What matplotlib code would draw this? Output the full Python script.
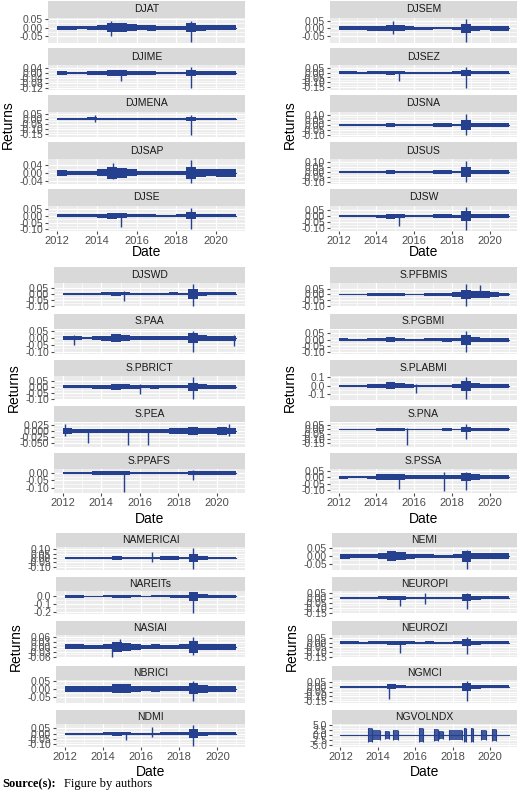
import matplotlib
matplotlib.use("Agg")
import matplotlib.pyplot as plt
import numpy as np

plt.rcParams['font.family'] = ['Liberation Sans', 'DejaVu Sans']

W, H = 520, 794
fig = plt.figure(figsize=(W/100, H/100), dpi=100)

LINE = "#24408e"
halfyears = [2012.0 + 0.5*i for i in range(18)] + [2021.0]

block_names = [
    (["DJAT", "DJIME", "DJMENA", "DJSAP", "DJSE"], ["DJSEM", "DJSEZ", "DJSNA", "DJSUS", "DJSW"]),
    (["DJSWD", "S.PAA", "S.PBRICT", "S.PEA", "S.PPAFS"], ["S.PFBMIS", "S.PGBMI", "S.PLABMI", "S.PNA", "S.PSSA"]),
    (["NAMERICAI", "NAREITs", "NASIAI", "NBRICI", "NDMI"], ["NEMI", "NEUROPI", "NEUROZI", "NGMCI", "NGVOLNDX"]),
]

yticks = {
    "DJAT": [-0.05, 0.0, 0.05], "DJIME": [-0.12, -0.08, -0.04, 0.0, 0.04],
    "DJMENA": [-0.15, -0.10, -0.05, 0.0, 0.05], "DJSAP": [-0.04, 0.0, 0.04],
    "DJSE": [-0.10, -0.05, 0.0, 0.05], "DJSEM": [-0.05, 0.0, 0.05],
    "DJSEZ": [-0.15, -0.10, -0.05, 0.0, 0.05], "DJSNA": [-0.10, -0.05, 0.0, 0.05, 0.10],
    "DJSUS": [-0.10, -0.05, 0.0, 0.05, 0.10], "DJSW": [-0.10, -0.05, 0.0, 0.05],
    "DJSWD": [-0.10, -0.05, 0.0, 0.05], "S.PAA": [-0.10, -0.05, 0.0, 0.05],
    "S.PBRICT": [-0.10, -0.05, 0.0, 0.05], "S.PEA": [-0.050, -0.025, 0.0, 0.025],
    "S.PPAFS": [-0.10, -0.05, 0.0], "S.PFBMIS": [-0.10, -0.05, 0.0, 0.05],
    "S.PGBMI": [-0.10, -0.05, 0.0, 0.05], "S.PLABMI": [-0.1, 0.0, 0.1],
    "S.PNA": [-0.15, -0.10, -0.05, 0.0, 0.05], "S.PSSA": [-0.10, -0.05, 0.0, 0.05],
    "NAMERICAI": [-0.10, -0.05, 0.0, 0.05, 0.10], "NAREITs": [-0.2, -0.1, 0.0],
    "NASIAI": [-0.06, -0.03, 0.0, 0.03, 0.06], "NBRICI": [-0.05, 0.0, 0.05],
    "NDMI": [-0.10, -0.05, 0.0, 0.05], "NEMI": [-0.05, 0.0, 0.05],
    "NEUROPI": [-0.15, -0.10, -0.05, 0.0, 0.05], "NEUROZI": [-0.15, -0.10, -0.05, 0.0, 0.05],
    "NGMCI": [-0.15, -0.10, -0.05, 0.0, 0.05], "NGVOLNDX": [-5.0, -2.5, 0.0, 2.5, 5.0],
}
ydecimals = {"S.PEA": 3, "S.PLABMI": 1, "NAREITs": 1, "NGVOLNDX": 1}

amp = {
    "DJAT":    [.012,.012,.010,.012,.015,.025,.028,.020,.015,.018,.012,.012,.012,.025,.018,.015,.015,.015],
    "DJIME":   [.012,.010,.010,.012,.015,.020,.020,.015,.012,.015,.010,.010,.010,.025,.015,.012,.012,.012],
    "DJMENA":  [.010,.008,.008,.015,.012,.012,.012,.010,.010,.010,.008,.008,.008,.020,.010,.008,.008,.008],
    "DJSAP":   [.015,.012,.012,.012,.018,.030,.025,.018,.012,.012,.010,.010,.012,.030,.020,.018,.020,.020],
    "DJSE":    [.010,.010,.010,.012,.015,.020,.018,.012,.010,.012,.008,.008,.010,.025,.012,.012,.012,.012],
    "DJSEM":   [.012,.012,.012,.015,.018,.020,.020,.012,.010,.010,.008,.008,.010,.030,.015,.012,.015,.015],
    "DJSEZ":   [.012,.012,.010,.012,.015,.020,.015,.010,.008,.010,.010,.010,.012,.030,.018,.015,.015,.015],
    "DJSNA":   [.010,.010,.010,.010,.012,.020,.012,.008,.008,.012,.015,.020,.012,.045,.020,.015,.015,.015],
    "DJSUS":   [.010,.010,.010,.010,.012,.020,.012,.008,.008,.012,.015,.020,.012,.045,.020,.015,.015,.015],
    "DJSW":    [.010,.008,.008,.010,.012,.020,.015,.008,.008,.010,.015,.015,.012,.040,.018,.015,.015,.015],
    "DJSWD":   [.010,.008,.008,.010,.012,.015,.012,.008,.008,.010,.010,.012,.010,.040,.015,.012,.012,.012],
    "S.PAA":   [.012,.012,.010,.012,.018,.028,.022,.015,.012,.015,.012,.012,.012,.035,.020,.018,.018,.018],
    "S.PBRICT":[.012,.012,.012,.015,.018,.025,.020,.015,.012,.015,.012,.012,.012,.035,.020,.018,.018,.018],
    "S.PEA":   [.012,.010,.008,.010,.010,.010,.010,.010,.010,.010,.010,.012,.012,.015,.012,.012,.015,.012],
    "S.PPAFS": [.008,.008,.008,.015,.012,.012,.012,.010,.010,.010,.010,.010,.010,.015,.012,.012,.012,.012],
    "S.PFBMIS":[.008,.008,.008,.010,.010,.010,.010,.008,.008,.010,.012,.015,.020,.040,.030,.030,.020,.012],
    "S.PGBMI": [.010,.008,.008,.010,.012,.020,.012,.008,.008,.010,.012,.015,.012,.040,.018,.015,.015,.015],
    "S.PLABMI":[.015,.015,.015,.020,.025,.040,.030,.020,.015,.015,.015,.015,.020,.060,.030,.025,.020,.020],
    "S.PNA":   [.010,.010,.008,.010,.012,.015,.012,.008,.008,.010,.010,.012,.010,.030,.012,.012,.012,.012],
    "S.PSSA":  [.012,.010,.010,.012,.020,.025,.020,.018,.015,.018,.015,.015,.015,.030,.020,.018,.018,.018],
    "NAMERICAI":[.010,.010,.010,.010,.015,.020,.012,.008,.010,.015,.020,.020,.012,.050,.018,.015,.015,.015],
    "NAREITs": [.015,.015,.010,.010,.012,.020,.015,.012,.010,.012,.012,.015,.015,.060,.025,.020,.018,.018],
    "NASIAI":  [.015,.015,.012,.012,.015,.030,.025,.018,.012,.015,.012,.012,.015,.035,.020,.018,.020,.020],
    "NBRICI":  [.018,.018,.018,.018,.020,.030,.028,.020,.015,.018,.015,.015,.015,.035,.025,.020,.020,.020],
    "NDMI":    [.010,.008,.008,.010,.012,.020,.015,.008,.008,.010,.012,.015,.012,.040,.018,.015,.015,.015],
    "NEMI":    [.015,.012,.012,.012,.018,.030,.025,.015,.012,.012,.010,.010,.012,.035,.020,.020,.018,.018],
    "NEUROPI": [.012,.010,.010,.010,.015,.020,.020,.012,.010,.012,.010,.010,.012,.035,.018,.015,.015,.015],
    "NEUROZI": [.012,.012,.010,.012,.015,.022,.020,.012,.010,.012,.010,.010,.012,.035,.020,.015,.015,.015],
    "NGMCI":   [.010,.010,.010,.010,.012,.025,.015,.010,.010,.012,.012,.012,.012,.040,.018,.015,.015,.015],
    "NGVOLNDX":[0]*18,
}

spikes = {
    "DJAT": [(2014.7, -0.05, 0.04), (2018.75, -0.085, 0.04)],
    "DJIME": [(2015.2, -0.06, 0.02), (2018.75, -0.12, 0.05)],
    "DJMENA": [(2013.9, -0.03, 0.04), (2018.75, -0.16, 0.04)],
    "DJSAP": [(2014.8, -0.03, 0.05), (2018.75, -0.05, 0.065)],
    "DJSE": [(2015.2, -0.08, 0.02), (2018.75, -0.10, 0.06)],
    "DJSEM": [(2014.9, -0.04, 0.05), (2018.75, -0.09, 0.06)],
    "DJSEZ": [(2015.2, -0.09, 0.02), (2018.75, -0.16, 0.06)],
    "DJSNA": [(2018.75, -0.10, 0.11)],
    "DJSUS": [(2018.75, -0.10, 0.11)],
    "DJSW": [(2015.2, -0.08, 0.02), (2018.75, -0.11, 0.07)],
    "DJSWD": [(2015.2, -0.06, 0.02), (2018.75, -0.10, 0.08)],
    "S.PAA": [(2012.6, -0.05, 0.02), (2018.75, -0.10, 0.05), (2020.9, -0.06, 0.02)],
    "S.PBRICT": [(2016.0, -0.06, 0.02), (2018.75, -0.10, 0.08)],
    "S.PEA": [(2012.1, -0.02, 0.028), (2013.3, -0.05, 0.01), (2015.4, -0.06, 0.01), (2016.4, -0.06, 0.01), (2020.6, -0.02, 0.03)],
    "S.PPAFS": [(2015.2, -0.13, 0.01), (2018.75, -0.05, 0.02)],
    "S.PFBMIS": [(2018.75, -0.10, 0.09), (2019.5, -0.02, 0.08)],
    "S.PGBMI": [(2018.75, -0.10, 0.07)],
    "S.PLABMI": [(2016.1, -0.08, 0.02), (2018.75, -0.15, 0.10)],
    "S.PNA": [(2015.6, -0.17, 0.02), (2018.75, -0.10, 0.06)],
    "S.PSSA": [(2015.2, -0.09, 0.02), (2017.6, -0.11, 0.04), (2018.75, -0.10, 0.04)],
    "NAMERICAI": [(2016.6, -0.05, 0.07), (2018.75, -0.12, 0.11)],
    "NAREITs": [(2018.75, -0.21, 0.05)],
    "NASIAI": [(2014.5, -0.06, 0.02), (2014.9, -0.02, 0.05), (2018.75, -0.05, 0.06)],
    "NBRICI": [(2018.75, -0.08, 0.05)],
    "NDMI": [(2015.2, -0.06, 0.02), (2016.6, -0.03, 0.06), (2018.75, -0.11, 0.08)],
    "NEMI": [(2018.75, -0.08, 0.04)],
    "NEUROPI": [(2015.2, -0.08, 0.02), (2016.5, -0.06, 0.05), (2018.75, -0.11, 0.05)],
    "NEUROZI": [(2015.2, -0.11, 0.02), (2018.75, -0.12, 0.06)],
    "NGMCI": [(2014.6, -0.13, 0.02), (2018.75, -0.15, 0.06)],
    "NGVOLNDX": [],
}

vol_blocks = [(2013.5, 2013.7, 3.5), (2013.7, 2014.1, 2.5), (2014.4, 2014.6, 2.0), (2014.8, 2015.1, 2.5),
              (2016.2, 2016.4, 3.5), (2017.0, 2017.2, 3.0), (2017.3, 2017.5, 2.0), (2017.8, 2018.5, 2.5),
              (2018.6, 2018.7, 3.5), (2019.0, 2019.1, 3.5), (2019.5, 2019.8, 2.5), (2020.1, 2020.3, 3.0)]

year_ticks = [2012, 2014, 2016, 2018, 2020]

blocks = [
    dict(top=1, step=47, sh=17, ph=25, lx=48, rx=330, xlab=243, date=252),
    dict(top=267, step=46.5, sh=16, ph=24, lx=54, rx=330, xlab=510, date=519),
    dict(top=533, step=44.2, sh=14, ph=23, lx=56, rx=332, xlab=760, date=772),
]
lr = 245
rr = 517

def fmt(v, d):
    return f"{v:.{d}f}"

for bi, (b, (lnames, rnames)) in enumerate(zip(blocks, block_names)):
    for ci, (names, x0, x1) in enumerate([(lnames, b["lx"], lr), (rnames, b["rx"], rr)]):
        for pi, name in enumerate(names):
            st = b["top"] + pi*b["step"]
            sax = fig.add_axes([x0/W, 1-(st+b["sh"])/H, (x1-x0)/W, b["sh"]/H])
            sax.set_facecolor("#D9D9D9")
            sax.set_xticks([]); sax.set_yticks([])
            for s in sax.spines.values(): s.set_visible(False)
            sax.text(0.5, 0.5, name, ha="center", va="center", fontsize=7.5, color="#1a1a1a",
                     transform=sax.transAxes)
            py = st + b["sh"]
            ax = fig.add_axes([x0/W, 1-(py+b["ph"])/H, (x1-x0)/W, b["ph"]/H])
            ax.set_facecolor("#EBEBEB")
            for s in ax.spines.values(): s.set_visible(False)
            yt = yticks[name]
            d = ydecimals.get(name, 2)
            span = yt[-1]-yt[0]
            lo = min(yt[0], min([s[1] for s in spikes[name]], default=yt[0])) - 0.08*span
            hi = max(yt[-1], max([s[2] for s in spikes[name]], default=yt[-1])) + 0.08*span
            ax.set_ylim(lo, hi)
            ax.set_xlim(2011.55, 2021.45)
            ax.set_yticks(yt)
            ax.set_yticklabels([fmt(v, d) for v in yt])
            ax.set_xticks(year_ticks)
            ax.set_xticks([2013, 2015, 2017, 2019, 2021], minor=True)
            mids = [(yt[i]+yt[i+1])/2 for i in range(len(yt)-1)]
            ax.set_yticks(mids, minor=True)
            ax.grid(True, which="major", color="white", lw=0.9)
            ax.grid(True, which="minor", color="white", lw=0.45)
            ax.set_axisbelow(True)
            ax.tick_params(axis="y", which="major", labelsize=7.5, colors="#4D4D4D", length=2.5, pad=1,
                           labelcolor="#4D4D4D")
            ax.tick_params(axis="y", which="minor", length=0)
            ax.tick_params(axis="x", which="both", length=0)
            if pi == 4:
                ax.tick_params(axis="x", which="major", labelsize=8, length=2.5, labelcolor="#4D4D4D",
                               colors="#4D4D4D", pad=1)
                ax.set_xticklabels([str(y) for y in year_ticks])
            else:
                ax.set_xticklabels([])
            if name == "NGVOLNDX":
                ax.plot([2012.0, 2021.0], [0, 0], color=LINE, lw=0.8)
                for (a, e, h) in vol_blocks:
                    ax.fill_between([a, e], [-h, -h], [h, h], color=LINE, lw=0, alpha=0.85)
                    ax.vlines([a, e], -h, h, color=LINE, lw=0.8)
            else:
                a = amp[name] + [amp[name][-1]]
                ax.fill_between(halfyears, [-v for v in a], a, step="post", color=LINE, lw=0)
                ax.plot([2012.0, 2021.0], [0, 0], color=LINE, lw=0.8)
                for (dt, l, h) in spikes[name]:
                    ax.vlines(dt, l, h, color=LINE, lw=1.0)
        cx = (x0 + x1)/2
        fig.text(cx/W, 1-b["date"]/H, "Date", ha="center", va="center", fontsize=10, color="black")
        ymid = b["top"] + 2*b["step"] + b["sh"] + b["ph"]/2
        fig.text((x0-40)/W, 1-ymid/H, "Returns", rotation=90, ha="center", va="center", fontsize=10)

fig.text(2/W, 1-784/H, "Source(s):", fontsize=9, fontweight="bold", family="Liberation Serif",
         ha="left", va="center")
fig.text(64/W, 1-784/H, "Figure by authors", fontsize=9, family="Liberation Serif",
         ha="left", va="center")

fig.savefig("out.png", dpi=100)
